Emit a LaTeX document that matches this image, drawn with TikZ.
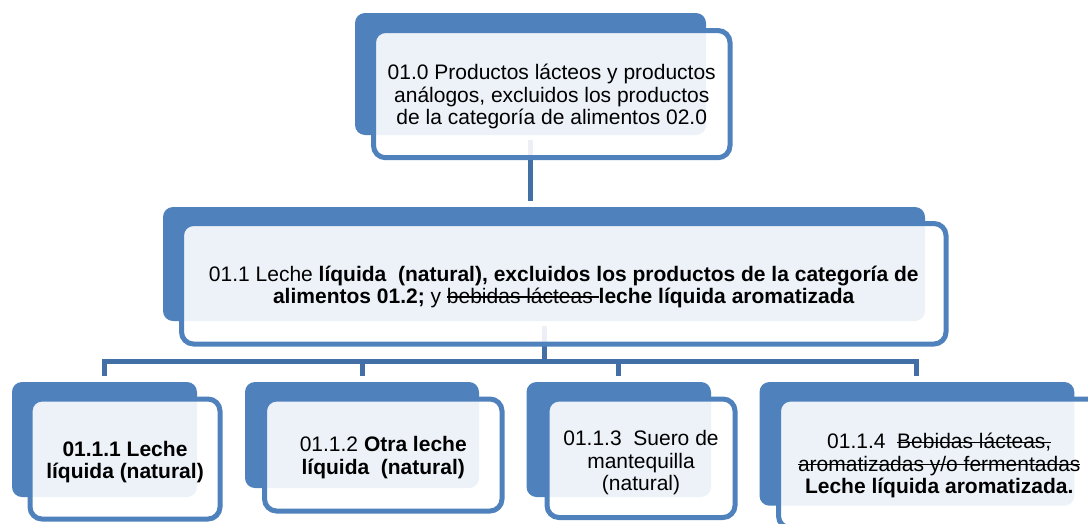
\documentclass[tikz,border=0pt]{standalone}
\usepackage{fontspec}
\setmainfont{Liberation Sans}
\newsavebox\stbox
\newcommand{\strk}[1]{\sbox\stbox{#1}\rlap{\usebox\stbox}\rule[0.27em]{\wd\stbox}{1.5pt}}
\definecolor{accent}{HTML}{4F81BD}
\definecolor{connc}{HTML}{416FA6}
\newcommand{\bfont}{\fontsize{21}{22.3}\selectfont}
\tikzset{
  back/.style={rectangle, rounded corners=10pt, fill=accent, draw=none, inner sep=0pt},
  front/.style={rectangle, rounded corners=12pt, fill=white, fill opacity=0.9,
    draw=accent, line width=5pt, inner sep=0pt},
  txt/.style={inner sep=0pt, align=center, font=\bfont},
  conn/.style={draw=connc, line width=5pt},
}
\begin{document}
\begin{tikzpicture}[x=1pt, y=-1pt]
\useasboundingbox (0,0) rectangle (1088,523);
\clip (0,0) rectangle (1088,523);
% back boxes
\node[back, minimum width=351pt, minimum height=122pt] (b0) at (530.5,74) {};
\node[back, minimum width=762pt, minimum height=114pt] (b1) at (544,264) {};
\node[back, minimum width=185pt, minimum height=115pt] (c1) at (104.5,439.5) {};
\node[back, minimum width=234pt, minimum height=106pt] (c2) at (362,435) {};
\node[back, minimum width=184.5pt, minimum height=115pt] (c3) at (618.75,439.5) {};
\node[back, minimum width=314.8pt, minimum height=123.7pt] (c4) at (916.9,443.85) {};
% connectors
\coordinate (bus) at (0,361.5);
\draw[conn, shorten <=5pt, shorten >=6pt] (b0.south) -- (b0.south |- b1.north);
\foreach \c in {c1,c2,c3,c4}{
  \draw[conn, shorten <=5pt, shorten >=6pt] (b1.south) -- (b1.south |- bus) -| (\c.north);
}
% front boxes
\node[front, minimum width=356.5pt, minimum height=127.2pt] (f0) at (551.75,94.1) {};
\node[front, minimum width=764.5pt, minimum height=120.5pt] (f1) at (563.75,283.75) {};
\node[front, minimum width=190pt, minimum height=120pt] (g1) at (125,459) {};
\node[front, minimum width=237.5pt, minimum height=112pt] (g2) at (383.25,455) {};
\node[front, minimum width=188pt, minimum height=118.5pt] (g3) at (641,458.25) {};
\node[front, minimum width=321.5pt, minimum height=129pt] (g4) at (939.25,463.5) {};
% texts
\node[txt] (t0) at ([yshift=-2.5pt]f0.center)
  {01.0 Productos lácteos y productos\\análogos, excluidos los productos\\de la categoría de alimentos 02.0};
\node[txt] (t1) at ([yshift=-3pt]f1.center)
  {01.1 Leche \textbf{líquida\ \ (natural), excluidos los productos de la categoría de}\\
   \textbf{alimentos 01.2;} y \strk{bebidas lácteas }\textbf{leche líquida aromatizada}};
\node[txt] (s1) at ([yshift=-3pt]g1.center)
  {\textbf{01.1.1 Leche}\\\textbf{líquida (natural)}};
\node[txt] (s2) at ([yshift=-2.5pt]g2.center)
  {01.1.2 \textbf{Otra leche}\\\textbf{líquida\ \ (natural)}};
\node[txt] (s3) at ([yshift=-4.5pt]g3.center)
  {01.1.3\ \ Suero de\\mantequilla\\(natural)};
\node[txt] (s4) at ([yshift=-2pt]g4.center)
  {01.1.4\ \ \strk{Bebidas lácteas,}\\\strk{aromatizadas y/o fermentadas}\\\textbf{Leche líquida aromatizada.}};
\end{tikzpicture}
\end{document}
